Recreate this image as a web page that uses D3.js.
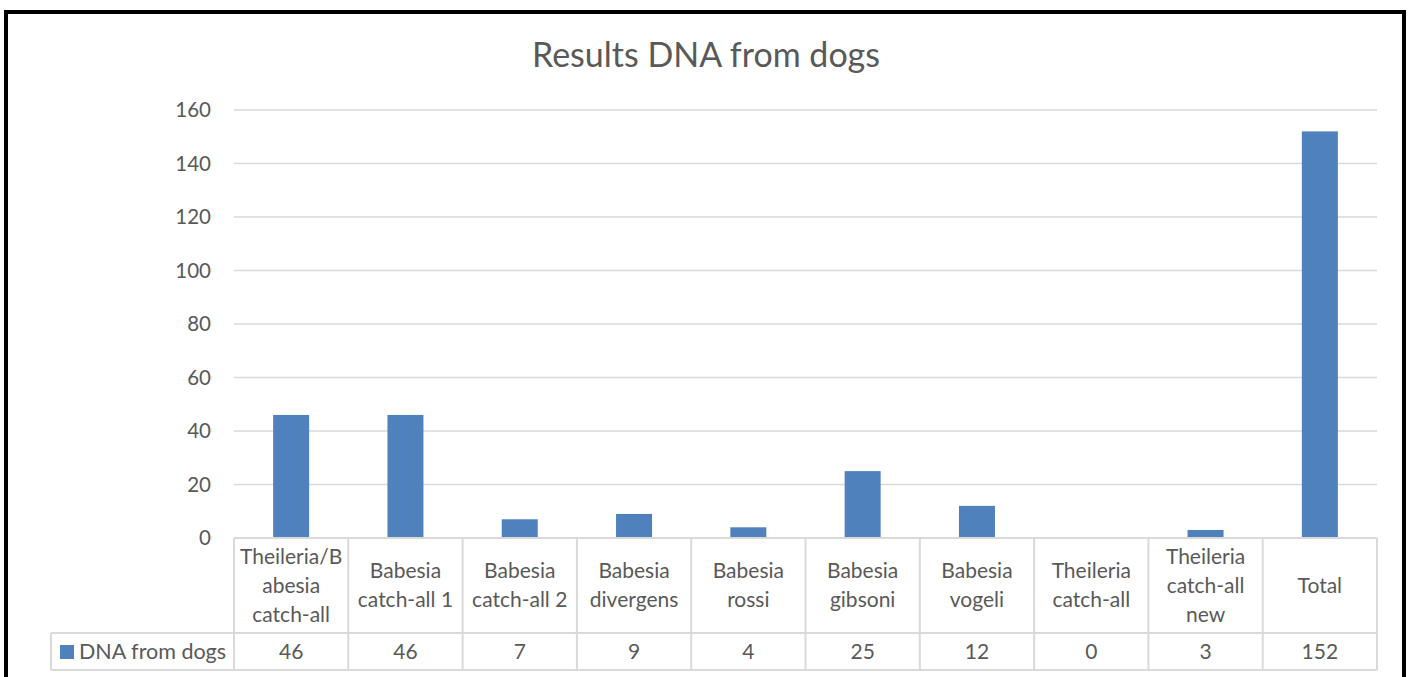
<!DOCTYPE html>
<html><head><meta charset="utf-8">
<script src="https://cdn.jsdelivr.net/npm/d3@7"></script>
<style>
html,body{margin:0;padding:0;background:#fff;}
svg{display:block;font-family:Lato,"Liberation Sans",sans-serif;}
</style></head>
<body>
<svg id="chart" width="1410" height="677"></svg>
<script>
const title = "Results DNA from dogs";
const seriesName = "DNA from dogs";
const categories = ["Theileria/B\nabesia\ncatch-all","Babesia\ncatch-all 1","Babesia\ncatch-all 2","Babesia\ndivergens","Babesia\nrossi","Babesia\ngibsoni","Babesia\nvogeli","Theileria\ncatch-all","Theileria\ncatch-all\nnew","Total"];
const values = [46,46,7,9,4,25,12,0,3,152];
const yTicks = [0,20,40,60,80,100,120,140,160];

const svg = d3.select("#chart");
const txt = "#595959", grid = "#d9d9d9", barColor = "#4f81bd";
const L = 234, R = 1377, T = 110, B = 538;
const rowSplit = 633, tableBottom = 670, legendLeft = 51;

// frame
svg.append("rect").attr("x",6).attr("y",12).attr("width",1398).attr("height",700)
  .attr("fill","none").attr("stroke","#000").attr("stroke-width",4);

const x = d3.scaleBand().domain(categories).range([L,R]).padding(0);
const y = d3.scaleLinear().domain([0,160]).range([B,T]);

// title
svg.append("text").attr("x",706).attr("y",67).attr("text-anchor","middle")
  .attr("fill",txt).style("font-size","34px").text(title);

// gridlines
svg.append("g").selectAll("line").data(yTicks.filter(d=>d>0)).join("line")
  .attr("x1",L).attr("x2",R).attr("y1",d=>y(d)).attr("y2",d=>y(d))
  .attr("stroke",grid).attr("stroke-width",1.5);

// y axis labels
const yAxis = d3.axisLeft(y).tickValues(yTicks).tickSize(0).tickPadding(0);
const gy = svg.append("g").attr("transform",`translate(211,0)`).call(yAxis);
gy.select(".domain").remove();
gy.selectAll("text").attr("fill",txt).style("font-size","20.5px").style("font-family","Lato");

// bars
const bw = x.bandwidth()*0.315;
svg.append("g").selectAll("rect").data(values).join("rect")
  .attr("x",(d,i)=>x(categories[i])+(x.bandwidth()-bw)/2)
  .attr("width",bw)
  .attr("y",d=>y(d)).attr("height",d=>y(0)-y(d))
  .attr("fill",barColor);

// table
const tg = svg.append("g").attr("stroke",grid).attr("stroke-width",2).attr("fill","none");
tg.append("line").attr("x1",L).attr("x2",R).attr("y1",B).attr("y2",B);
tg.append("line").attr("x1",legendLeft).attr("x2",R).attr("y1",rowSplit).attr("y2",rowSplit);
tg.append("line").attr("x1",legendLeft).attr("x2",R).attr("y1",tableBottom).attr("y2",tableBottom);
tg.append("line").attr("x1",legendLeft).attr("x2",legendLeft).attr("y1",rowSplit).attr("y2",tableBottom);
const bounds = categories.map(c=>x(c)).concat([R]);
tg.selectAll("line.v").data(bounds).join("line").attr("class","v")
  .attr("x1",d=>d).attr("x2",d=>d).attr("y1",B).attr("y2",tableBottom);

// category labels
const lh = 29, headMid = (B+rowSplit)/2;
categories.forEach((c,i)=>{
  const lines = c.split("\n");
  const t = svg.append("text").attr("text-anchor","middle").attr("fill",txt).style("font-size","21px");
  const cx = x(c)+x.bandwidth()/2;
  lines.forEach((ln,j)=>{
    t.append("tspan").attr("x",cx)
     .attr("y",headMid + (j-(lines.length-1)/2)*lh + 7).text(ln);
  });
});

// values row
const valMid = (rowSplit+tableBottom)/2;
svg.append("g").selectAll("text").data(values).join("text")
  .attr("x",(d,i)=>x(categories[i])+x.bandwidth()/2).attr("y",valMid+7)
  .attr("text-anchor","middle").attr("fill",txt).style("font-size","21px").text(d=>d);

// legend cell
svg.append("rect").attr("x",60).attr("y",645).attr("width",14).attr("height",14).attr("fill",barColor);
svg.append("text").attr("x",79).attr("y",valMid+7).attr("fill",txt).style("font-size","21.5px").text(seriesName);
</script>
</body></html>
